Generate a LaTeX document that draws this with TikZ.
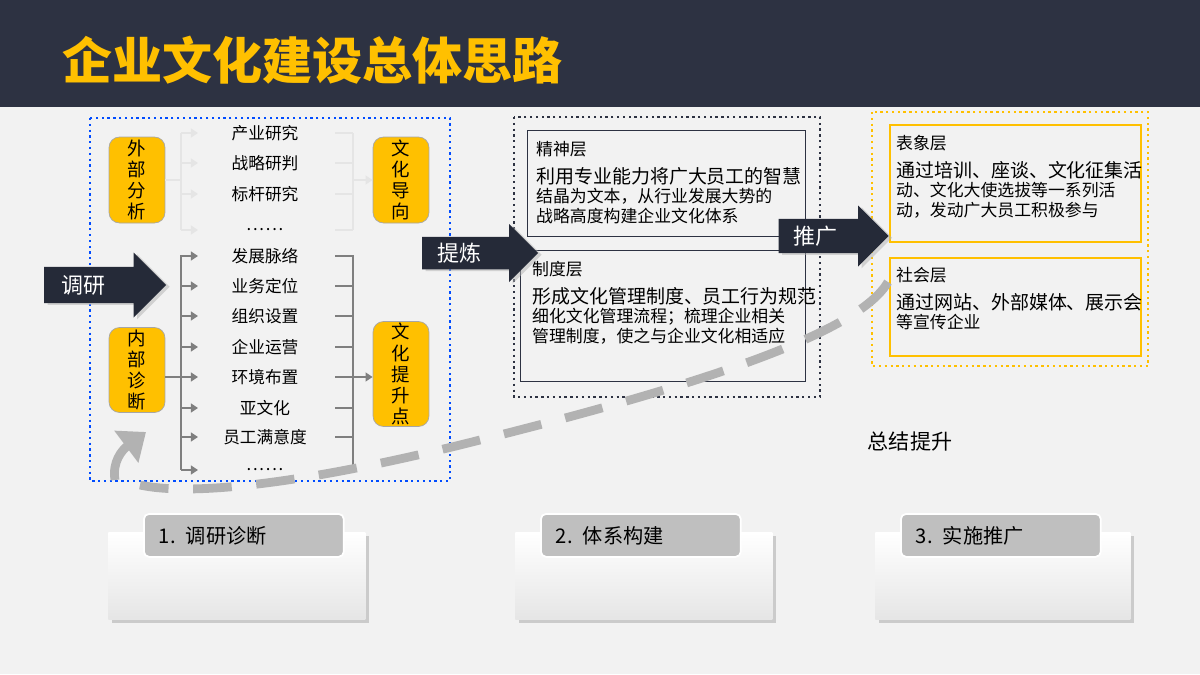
\documentclass[tikz,border=0pt]{standalone}
\usepackage{fontspec}
\setmainfont{Noto Sans CJK SC}
\usetikzlibrary{arrows.meta}
\usetikzlibrary{positioning}
\usetikzlibrary{shapes.arrows}
\usetikzlibrary{shadows}
\definecolor{navy}{RGB}{45, 50, 66}
\definecolor{darknavy}{RGB}{37, 42, 56}
\definecolor{gold}{RGB}{255, 192, 0}
\definecolor{pagebg}{RGB}{242, 242, 242}
\definecolor{linegray}{RGB}{127, 127, 127}
\definecolor{labelgray}{RGB}{191, 191, 191}
\newcommand{\sixdots}{.\kern1pt.\kern1pt.\kern1pt.\kern1pt.\kern1pt.}
\tikzset{
    tagbox/.style = {
      fill=gold,
      draw=gray!70,
      rounded corners=6pt,
      minimum width=1.12cm,
      align=center,
      font=\fontsize{10.5pt}{12pt}\selectfont,
      inner sep=1pt
    },
    item/.style = {font=\fontsize{9.5pt}{11pt}\selectfont},
    layer/.style = {
      draw=navy,
      thick,
      anchor=north west,
      align=left,
      inner sep=0pt
    },
    showbox/.style = {
      draw=gold,
      line width=1.2pt,
      anchor=north west
    },
    bodytext/.style = {
      anchor=north west,
      align=left,
      font=\fontsize{9.6pt}{11pt}\selectfont
    },
    bigarrow/.style = {
      single arrow,
      fill=darknavy,
      text=white,
      font=\fontsize{12.5pt}{14pt}\selectfont,
      single arrow head extend=0.22cm,
      inner sep=2pt,
      drop shadow={fill=gray!60, shadow xshift=2pt, shadow yshift=-1pt}
    },
    card/.style = {
      top color=white,
      bottom color=gray!20,
      minimum height=1.74cm,
      drop shadow={fill=gray!70, shadow xshift=2pt, shadow yshift=-2pt}
    },
    cardlabel/.style = {
      fill=labelgray,
      rounded corners=3pt,
      draw=white,
      line width=1pt,
      minimum height=0.86cm,
      text depth=0pt,
      font=\fontsize{11.5pt}{13pt}\selectfont,
      text width=3.4cm,
      align=left,
      inner xsep=0.3cm
    },
    feed/.style = {-{Triangle[length=4pt,width=5pt]}, line width=1.2pt},
}
\begin{document}
\begin{tikzpicture}[x=0.02cm, y=-0.02cm]
  % page
  \fill[pagebg] (0,0) rectangle (1200,674);
  \useasboundingbox (0,0) rectangle (1200,674);
  \fill[navy] (0,0) rectangle (1200,107);
  \node[anchor=west, text=gold, font=\fontsize{28.5pt}{30pt}\selectfont\bfseries] (title) at (56,60) {企业文化建设总体思路};

  % stage 1
  \draw[blue!70!cyan, line width=1.3pt, dotted] (90,118) rectangle (450,481);
  \node[tagbox, minimum height=1.72cm] (ext) at (137,180) {外\\部\\分\\析};
  \node[tagbox, minimum height=1.72cm] (dir) at (401,180) {文\\化\\导\\向};
  \node[tagbox, minimum height=1.70cm] (int) at (137,370) {内\\部\\诊\\断};
  \node[tagbox, minimum height=2.1cm] (pnt) at (401,374) {文\\化\\提\\升\\点};

  \foreach \t/\y [count=\i] in {产业研究/133, 战略研判/163, 标杆研究/194, {\sixdots}/230} {
    \node[item] (a\i) at (265,\y) {\t};
    \draw[feed, gray!20] (181,\y) -- (198,\y);
    \draw[line width=1.2pt, gray!20] (335,\y) -- (353,\y);
  }
  \draw[line width=1.2pt, gray!20] (181,133) -- (181,230);
  \draw[line width=1.2pt, gray!20] (353,133) -- (353,230);
  \draw[line width=1.2pt, gray!20] (ext.east |- 0,180) -- (181,180);
  \draw[feed, gray!20] (353,180) -- (dir.west);

  \foreach \t/\y [count=\i] in {发展脉络/256, 业务定位/286, 组织设置/316, 企业运营/347, 环境布置/377, 亚文化/408, 员工满意度/437, {\sixdots}/470} {
    \node[item] (b\i) at (265,\y) {\t};
    \draw[feed, linegray] (181,\y) -- (198,\y);
    \draw[line width=1.2pt, linegray] (335,\y) -- (353,\y);
  }
  \draw[line width=1.2pt, linegray] (181,255) -- (181,470);
  \draw[line width=1.2pt, linegray] (353,255) -- (353,470);
  \draw[line width=1.2pt, linegray] (int.east |- 0,377) -- (181,377);
  \draw[feed, linegray] (353,377) -- (pnt.west |- 0,377);

  \node[bigarrow, minimum width=1.3cm, minimum height=2.44cm] (survey) at (96,285) {\hspace{-0.5cm}调研\hspace{0.5cm}};

  % stage 2
  \draw[navy, line width=1.3pt, dotted] (514,117) rectangle (820,397);
  \node[layer, minimum width=5.56cm, minimum height=2.12cm] (spirit) at (527,130) {};
  \node[bodytext] (spirittxt) at (530,135) {精神层\\[5pt]\fontsize{10.8pt}{12pt}\selectfont 利用专业能力将广大员工的智慧\\结晶为文本，从行业发展大势的\\战略高度构建企业文化体系};
  \node[layer, minimum width=5.7cm, minimum height=2.62cm] (system) at (520,250) {};
  \node[bodytext] (systemtxt) at (526,255) {制度层\\[5pt]\fontsize{10.8pt}{12pt}\selectfont 形成文化管理制度、员工行为规范\\细化文化管理流程；梳理企业相关\\管理制度，使之与企业文化相适应};
  \node[bigarrow, minimum width=1.16cm, minimum height=2.32cm] (refine) at (472,253) {\hspace{-0.5cm}提炼\hspace{0.5cm}};

  % stage 3
  \draw[gold, line width=1.3pt, dotted] (872,112) rectangle (1148,366);
  \node[showbox, minimum width=5.02cm, minimum height=2.34cm] (image) at (889,124) {};
  \node[bodytext] (imagetxt) at (890,129) {表象层\\[5pt]\fontsize{10.8pt}{12pt}\selectfont 通过培训、座谈、文化征集活\\动、文化大使选拔等一系列活\\动，发动广大员工积极参与};
  \node[showbox, minimum width=5.02cm, minimum height=1.96cm] (social) at (889,257) {};
  \node[bodytext] (socialtxt) at (890,261) {社会层\\[5pt]\fontsize{10.8pt}{12pt}\selectfont 通过网站、外部媒体、展示会\\等宣传企业};
  \node[bigarrow, minimum width=1.22cm, minimum height=2.2cm] (promote) at (825,236) {\hspace{-0.4cm}推广\hspace{0.4cm}};

  \node[font=\fontsize{12pt}{14pt}\selectfont] (sum) at (910,441) {总结提升};

  % feedback loop
  \draw[gray!60, line width=5pt, dash pattern=on 22pt off 14pt]
    (888,282) .. controls (860,330) and (720,380) .. (480,440)
    .. controls (330,478) and (200,498) .. (140,485);
  \draw[gray!60, line width=5pt, -{Triangle[length=14pt,width=22pt]}]
    (115,480) .. controls (112,462) and (122,450) .. (146,432);

  % bottom cards
  \foreach \x/\w/\lx/\t [count=\i] in {108/257/143/{1. 调研诊断}, 515/257/540/{2. 体系构建}, 875/255/900/{3. 实施推广}} {
    \node[card, anchor=north west, minimum width=\w*0.02cm] (card\i) at (\x,532) {};
    \node[cardlabel, anchor=north west] (label\i) at (\lx,513) {\t};
  }
\end{tikzpicture}
\end{document}
